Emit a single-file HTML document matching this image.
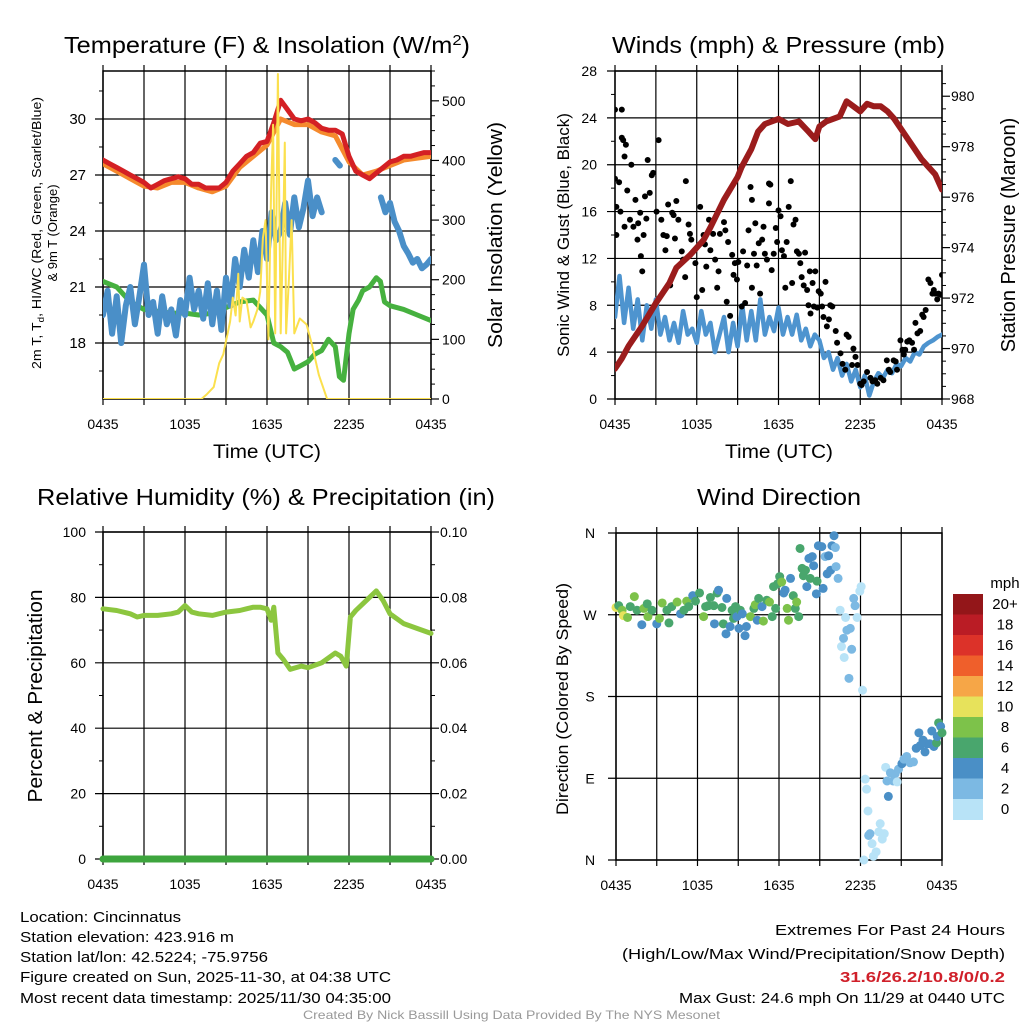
<!DOCTYPE html>
<html><head><meta charset="utf-8"><style>
html,body{margin:0;padding:0;background:#fff;}
svg{display:block;font-family:"Liberation Sans",sans-serif;}
</style></head><body>
<svg id="chart" xmlns="http://www.w3.org/2000/svg" width="1024" height="1024" viewBox="0 0 1024 1024">
<rect width="1024" height="1024" fill="#fff"/>
<g id="layer"></g>
<!-- titles -->
<text x="64" y="53" font-size="23" textLength="406" lengthAdjust="spacingAndGlyphs">Temperature (F) &amp; Insolation (W/m<tspan dy="-8" font-size="15">2</tspan><tspan dy="8">)</tspan></text>
<text x="612" y="53" font-size="23" textLength="333" lengthAdjust="spacingAndGlyphs">Winds (mph) &amp; Pressure (mb)</text>
<text x="37" y="505" font-size="23" textLength="458" lengthAdjust="spacingAndGlyphs">Relative Humidity (%) &amp; Precipitation (in)</text>
<text x="697" y="505" font-size="23" textLength="164" lengthAdjust="spacingAndGlyphs">Wind Direction</text>
<!-- axis titles -->
<text transform="translate(41,233) rotate(-90)" font-size="13" text-anchor="middle" textLength="272" lengthAdjust="spacingAndGlyphs">2m T, T<tspan dy="3" font-size="9">d</tspan><tspan dy="-3">, HI/WC (Red, Green, Scarlet/Blue)</tspan></text>
<text transform="translate(57,233) rotate(-90)" font-size="13" text-anchor="middle">&amp; 9m T (Orange)</text>
<text transform="translate(502,235) rotate(-90)" font-size="20" text-anchor="middle" textLength="226" lengthAdjust="spacingAndGlyphs">Solar Insolation (Yellow)</text>
<text x="213" y="458" font-size="19" textLength="108" lengthAdjust="spacingAndGlyphs">Time (UTC)</text>
<text transform="translate(569,235) rotate(-90)" font-size="17" text-anchor="middle">Sonic Wind &amp; Gust (Blue, Black)</text>
<text transform="translate(1015,235) rotate(-90)" font-size="20" text-anchor="middle">Station Pressure (Maroon)</text>
<text x="725" y="458" font-size="19" textLength="108" lengthAdjust="spacingAndGlyphs">Time (UTC)</text>
<text transform="translate(42,696) rotate(-90)" font-size="20" text-anchor="middle" textLength="213" lengthAdjust="spacingAndGlyphs">Percent &amp; Precipitation</text>
<text transform="translate(568,699) rotate(-90)" font-size="17" text-anchor="middle" textLength="232" lengthAdjust="spacingAndGlyphs">Direction (Colored By Speed)</text>
<text x="1005" y="588" font-size="15" text-anchor="middle">mph</text>
<!-- info text -->
<g font-size="15">
<text x="20" y="922" textLength="161" lengthAdjust="spacingAndGlyphs">Location: Cincinnatus</text>
<text x="20" y="942" textLength="214" lengthAdjust="spacingAndGlyphs">Station elevation: 423.916 m</text>
<text x="20" y="962" textLength="248" lengthAdjust="spacingAndGlyphs">Station lat/lon: 42.5224; -75.9756</text>
<text x="20" y="982" textLength="371" lengthAdjust="spacingAndGlyphs">Figure created on Sun, 2025-11-30, at 04:38 UTC</text>
<text x="20" y="1003" textLength="371" lengthAdjust="spacingAndGlyphs">Most recent data timestamp: 2025/11/30 04:35:00</text>
<text x="775" y="935" textLength="230" lengthAdjust="spacingAndGlyphs">Extremes For Past 24 Hours</text>
<text x="622" y="959" textLength="383" lengthAdjust="spacingAndGlyphs">(High/Low/Max Wind/Precipitation/Snow Depth)</text>
<text x="840" y="982" textLength="165" lengthAdjust="spacingAndGlyphs" fill="#d0202a" font-weight="bold">31.6/26.2/10.8/0/0.2</text>
<text x="679" y="1003" textLength="326" lengthAdjust="spacingAndGlyphs">Max Gust: 24.6 mph On 11/29 at 0440 UTC</text>
</g>
<text x="303" y="1019" font-size="12" fill="#999" textLength="417" lengthAdjust="spacingAndGlyphs">Created By Nick Bassill Using Data Provided By The NYS Mesonet</text>
</svg>
<script>
// ---------- DATA ----------
const xTickLabels = ["0435","1035","1635","2235","0435"];
// Top-left: temperature (deg F), half-hourly from 0435
const redT = [27.8,27.6,27.4,27.2,27.0,26.8,26.6,26.3,26.5,26.7,26.8,26.9,26.8,26.5,26.5,26.3,26.3,26.3,26.6,27.2,27.6,28.0,28.2,28.7,28.8,29.8,31.0,30.5,30.0,29.9,30.0,29.8,29.5,29.4,29.4,29.2,28.0,27.2,27.0,26.8,27.1,27.4,27.7,27.8,28.0,28.0,28.1,28.2,28.2];
const orangeT = [27.6,27.2,26.8,26.4,26.3,26.6,26.6,26.3,26.1,26.4,27.4,28.0,28.6,30.0,29.7,29.7,29.3,29.1,27.7,27.0,27.2,27.5,27.8,27.9,28.0];
// dew point every 20 minutes (null = gap)
const blueTd = [19.5,20.8,18.5,20.5,18.0,20.0,21.0,19.0,20.5,22.2,19.5,20.2,18.5,20.5,19.0,19.8,18.4,20.3,19.5,21.5,19.8,20.8,19.3,21.2,19.0,20.8,18.7,21.5,20.0,22.5,21.0,23.0,21.5,23.5,21.8,24.0,22.5,25.0,23.5,24.0,25.5,23.8,25.8,24.2,25.2,26.7,24.8,25.8,25.0,null,null,27.8,27.5,null,null,null,null,null,null,null,null,25.8,25.0,25.5,24.5,24.0,23.2,22.8,22.3,22.5,22.0,22.2,22.5];
const greenHours = [0,1,2,3,4,5,6,7,8,9,10,11,12,12.5,13,13.5,14,14.5,15,15.5,16,16.5,17,17.3,17.6,18,18.3,18.7,19,19.5,20,20.3,20.6,21,22,23,24];
const greenT = [21.3,21.0,20.2,19.8,19.7,19.6,19.6,19.5,19.6,19.9,20.2,20.3,19.5,18.0,17.8,17.5,16.6,16.8,17.0,17.4,17.6,18.2,17.8,16.2,16.0,18.5,19.8,20.3,20.8,21.0,21.5,21.3,20.2,20.0,19.8,19.5,19.2];
const solarHours = [0,7.2,7.6,8.1,8.5,8.8,9.3,9.5,9.7,9.9,10.0,10.2,10.5,10.8,11.0,11.3,11.5,11.7,11.9,12.1,12.3,12.45,12.6,12.8,13.0,13.2,13.3,13.4,13.6,13.8,14.0,14.4,14.9,15.3,15.8,16.4,24];
const solarW = [0,0,8,20,60,75,130,170,140,210,130,170,165,120,130,150,180,270,300,100,350,460,110,545,110,300,430,110,200,300,110,135,125,90,40,0,0];
const tempTicks = [18,21,24,27,30];
const solarTicks = [0,100,200,300,400,500];
// Top-right: wind every 20 min (mph)
const windSpeed = [7,10.5,6.5,9.5,6.0,8.5,5.0,8.0,6.0,8.5,5.5,7.0,5.0,6.5,4.8,7.5,5.5,6.0,4.8,7.5,5.5,6.5,4.0,5.5,7.0,4.0,6.5,4.5,8.0,5.0,7.5,5.0,8.5,5.5,7.0,5.8,7.8,5.5,7.0,5.5,7.2,5.0,6.0,4.5,5.5,5.0,3.5,4.0,2.5,3.5,2.0,3.0,1.5,2.5,1.0,2.0,0.3,1.5,2.2,1.8,2.5,2.2,3.0,2.8,3.5,3.2,4.0,3.8,4.5,4.8,5.0,5.3,5.5];
const gustHours = [0,0.5,0,0.3,0.1,0.4,0.1,0.5,0.6,0.8,0.7,1.2,0.9,0.7,1.1,1.35,1.5,1.7,1.65,1.85,1.9,2.0,2.1,2.2,2.3,2.4,2.55,2.7,2.8,3.05,3.2,3.4,3.55,3.7,3.8,4.05,3.9,4.2,4.3,4.4,4.5,4.65,4.9,5.0,5.15,5.2,5.4,5.5,5.6,5.9,6.0,6.25,6.4,6.5,6.6,6.7,6.9,7.0,7.2,7.35,7.5,7.6,7.7,8.0,8.1,8.2,8.3,8.45,8.6,8.7,8.8,8.95,9.05,9.3,9.4,9.55,9.7,9.8,9.95,10.05,10.05,10.2,10.3,10.4,10.55,10.65,10.8,10.9,11.0,11.15,11.3,11.4,11.3,11.5,11.65,11.8,11.9,12.0,12.15,12.25,12.4,12.5,12.6,12.75,12.9,13.0,13.1,13.25,13.35,13.5,13.6,13.7,13.85,13.95,14.1,14.2,14.3,14.35,14.5,14.6,14.7,14.85,14.95,15.1,15.2,15.3,15.45,15.55,15.7,15.8,15.95,16.2,16.3,16.55,16.7,16.9,17.0,17.15,17.4,17.5,17.65,17.8,18.0,18.1,18.25,18.5,18.75,18.9,19.1,19.25,19.5,19.7,19.95,20.1,20.2,20.45,20.6,20.7,20.95,21.1,21.2,21.3,21.45,21.6,21.8,21.95,22.05,22.2,22.4,22.55,22.65,22.8,23.0,23.15,23.3,23.4,23.5,23.65,23.75,23.9,24.0];
const gustMph = [24.7,24.7,18.8,18.5,16.4,16.0,14.0,22.3,22.1,21.7,20.7,20.0,17.8,14.7,15.3,14.7,17.0,15.0,13.6,15.9,12.2,10.9,14.0,17.3,15.4,20.4,17.6,19.1,19.3,16.0,22.1,15.3,14.0,12.7,13.9,9.7,16.6,15.9,15.7,13.7,16.9,15.3,12.6,11.9,10.4,18.6,14.9,14.1,13.6,11.6,8.7,16.4,9.3,14.0,13.2,11.3,15.3,12.7,14.1,11.9,9.5,10.9,14.1,15.1,14.4,8.3,13.4,7.1,12.3,10.6,11.6,10.2,11.7,7.9,12.6,8.2,11.4,14.4,18.1,17.0,9.5,12.4,15.0,11.4,13.3,9.0,13.6,14.7,12.4,11.9,18.4,18.3,16.7,11.0,12.4,14.6,13.4,16.1,15.6,12.7,12.2,9.5,13.4,16.4,18.6,9.9,14.9,15.3,12.6,12.4,11.6,10.4,9.7,12.5,9.3,8.0,10.9,7.3,9.9,7.9,10.9,7.8,9.2,9.0,7.9,7.0,10.0,6.2,6.8,8.0,7.9,5.8,4.8,3.9,3.0,2.5,5.5,5.3,2.9,4.3,3.6,2.9,1.3,1.2,1.5,2.3,1.8,1.5,1.6,1.3,1.8,1.6,3.3,2.5,2.3,3.3,3.2,2.5,5.0,4.2,3.8,4.2,4.9,5.0,4.8,4.2,6.5,5.6,5.8,7.2,7.0,7.6,10.2,9.9,9.0,9.3,9.0,8.5,9.0,8.9,10.6];
const pressHours = [0,0.5,1,2,3,4,4.5,5.5,6.5,7,8,9,9.3,10,10.5,11,12,12.7,13.5,14.2,14.7,15,15.5,16,16.5,17,17.5,18,18.5,19,19.5,20,20.5,21,21.5,22,22.5,23,23.5,24];
const pressMb = [969.2,969.6,970.1,970.9,971.8,972.6,973.2,973.7,974.3,974.8,975.9,976.8,977.2,977.9,978.6,978.9,979.1,978.9,979.0,978.6,978.3,978.8,979.0,979.1,979.2,979.8,979.6,979.4,979.7,979.6,979.6,979.4,979.1,978.7,978.3,977.9,977.5,977.2,976.9,976.3];
const windTicks = [0,4,8,12,16,20,24,28];
const pressTicks = [968,970,972,974,976,978,980];
// Bottom-left: RH (%), precip (in)
const rhHours = [0,1,2,2.5,3,4,5,5.5,6,6.5,7,8,9,10,10.5,11,11.5,12,12.3,12.5,12.8,13.2,13.7,14.5,15,16,17,17.4,17.8,18.1,18.5,19,19.5,20,20.5,21,22,23,24];
const rhPct = [76.5,76,75,74,74.5,74.5,75,75.5,77.5,75.5,75,74.5,75.5,76,76.5,77,77,76.5,73,77,63,61,58,59,58.5,60,63,62,59,74,76,78,80,82,79,75,72,70.5,69];
const precipHours = [0,6,12,18,24];
const precipIn = [0,0,0,0,0];
const rhTicks = [0,20,40,60,80,100];
const precipTicks = ["0.00","0.02","0.04","0.06","0.08","0.10"];
// Bottom-right: wind direction
const dirHours = [0,0.2,0.45,0.55,0.85,1.05,1.35,1.55,1.9,2.05,2.3,2.35,2.65,3.0,3.2,3.4,3.75,3.9,4.1,4.5,4.75,5.0,5.2,5.35,5.65,5.85,6.15,6.45,6.6,6.8,6.95,7.2,7.25,7.45,7.55,7.8,7.9,8.1,8.15,8.4,8.55,8.65,8.8,8.9,9.05,9.15,9.3,9.5,9.6,9.9,10.15,10.25,10.4,10.5,10.75,10.85,11.1,11.3,11.5,11.6,11.75,11.9,12.05,12.2,12.35,12.45,12.6,12.7,12.85,13.05,13.2,13.3,13.45,13.55,13.7,13.8,13.95,14.05,14.2,14.3,14.45,14.55,14.75,14.8,14.9,15.15,15.25,15.4,15.55,15.65,15.8,15.9,16.05,16.15,16.2,16.35,16.5,16.6,16.75,16.8,16.9,17.0,17.15,17.25,17.35,17.5,17.6,17.75,17.95,18.05,18.15,18.25,18.35,18.45,18.55,18.6,18.7,18.85,18.95,19.15,19.35,19.45,19.6,19.75,19.85,19.95,20.05,20.2,20.4,20.55,20.7,20.8,21.05,21.2,21.4,21.65,21.9,22.1,22.3,22.4,22.6,22.75,22.9,23.1,23.25,23.4,23.6,23.65,23.75,23.9,24];
const dirDeg = [278,280,275,269,267,279,290,275,259,277,282,268,275,260,266,283,275,261,279,284,271,275,285,279,291,285,294,268,279,280,289,280,260,294,297,278,260,249,288,257,275,266,279,268,255,275,271,247,257,268,277,281,264,288,279,263,286,284,268,301,277,304,312,306,294,297,277,264,310,291,277,284,268,343,321,313,319,301,332,310,334,324,293,307,346,345,299,334,315,335,319,346,357,344,323,310,275,235,244,223,267,253,200,255,232,288,280,267,296,301,187,0,89,78,54,27,29,18,4,9,31,40,23,29,102,87,70,96,87,95,86,100,106,111,114,107,108,123,140,126,132,119,128,128,142,125,129,136,151,147,140];
const dirSpeed = [11,7,9,11,9,7,9,7,5,9,7,9,7,5,9,9,7,7,7,9,5,7,9,7,5,7,7,9,7,7,7,7,5,7,5,7,7,5,5,5,7,7,7,5,5,7,5,5,5,9,7,9,5,7,5,9,7,9,7,7,7,7,7,9,5,5,9,9,5,7,7,9,7,7,7,7,7,5,5,7,5,5,5,7,5,5,5,3,5,5,5,5,5,3,3,3,1,1,3,1,1,3,3,3,3,3,3,1,1,1,1,1,1,1,1,3,3,1,1,1,1,1,1,1,1,3,5,3,3,3,1,3,5,3,3,3,3,5,5,5,5,5,5,5,5,5,7,5,7,5,7];
const dirTickLabels = ["N","E","S","W","N"];
const dirTickDeg = [0,90,180,270,360];
const cbLabels = ["20+","18","16","14","12","10","8","6","4","2","0"];
const cbColors = ["#931619","#ba1c25","#dc3229","#ef5f2b","#f6a647","#e7e25b","#7dc24a","#49a66d","#4a8fc6","#7cb9e3","#b8e3f7"];

// ---------- HELPERS ----------
const NS = "http://www.w3.org/2000/svg";
const layer = document.getElementById("layer");
function mk(tag, attrs, parent) {
  const e = document.createElementNS(NS, tag);
  for (const k in attrs) e.setAttribute(k, attrs[k]);
  (parent || layer).appendChild(e);
  return e;
}
function lin(d0, d1, r0, r1) { return v => r0 + (v - d0) / (d1 - d0) * (r1 - r0); }

const panels = {
  tl: {x0:103, x1:431, y0:71, y1:399},
  tr: {x0:615, x1:942, y0:71, y1:399},
  bl: {x0:103, x1:431, y0:532, y1:859},
  br: {x0:616, x1:942, y0:533, y1:860}
};

function frame(p, name, leftTicksY, leftMinorY, rightTicksY, rightMinorY) {
  const g = mk("g", {});
  
  
  const xs = lin(0, 24, p.x0, p.x1);
  for (let h = 0; h <= 24; h += 3) {
    const x = xs(h);
    const gl = mk("line", {x1:x, x2:x, y1:p.y0 - 6, y2:p.y1 + 6, stroke:"#000", "stroke-width":1.2}, g);
    
    
  }
  leftTicksY.forEach(y => {
    const gl = mk("line", {x1:p.x0 - 8, x2:p.x1, y1:y, y2:y, stroke:"#000", "stroke-width":1.2}, g);
    
    
  });
  (leftMinorY || []).forEach(y => {
    const t = mk("line", {x1:p.x0 - 4, x2:p.x0, y1:y, y2:y, stroke:"#000", "stroke-width":1}, g);
    
    
  });
  (rightTicksY || []).forEach(y => {
    const t = mk("line", {x1:p.x1, x2:p.x1 + 8, y1:y, y2:y, stroke:"#000", "stroke-width":1.2}, g);
    
    
  });
  (rightMinorY || []).forEach(y => {
    const t = mk("line", {x1:p.x1, x2:p.x1 + 4, y1:y, y2:y, stroke:"#000", "stroke-width":1}, g);
    
    
  });
  const b = mk("rect", {x:p.x0, y:p.y0, width:p.x1 - p.x0, height:p.y1 - p.y0, fill:"none", stroke:"#000", "stroke-width":1.5}, g);
  
  
  xTickLabels.forEach((lab, i) => {
    const t = mk("text", {x:xs(i * 6), y:p.y1 + 30, "font-size":14, "text-anchor":"middle"}, g);
    
    
    t.textContent = lab;
  });
  return xs;
}
function yLabels(vals, labels, ys, x, anchor, size, name) {
  vals.forEach((v, i) => {
    const t = mk("text", {x:x, y:ys(v) + 5, "font-size":size, "text-anchor":anchor});
    
    
    t.textContent = labels[i];
  });
}
function pathFrom(hours, vals, xs, ys) {
  let d = "", pen = false;
  for (let i = 0; i < vals.length; i++) {
    if (vals[i] === null) { pen = false; continue; }
    d += (pen ? "L" : "M") + xs(hours[i]).toFixed(1) + "," + ys(vals[i]).toFixed(1);
    pen = true;
  }
  return d;
}
function uniformHours(n) { const step = 24 / (n - 1); return Array.from({length:n}, (_, i) => i * step); }

// ---------- TOP LEFT ----------
{
  const p = panels.tl;
  const yT = lin(15, 32.57, p.y1, p.y0);
  const yS = lin(0, 550, p.y1, p.y0);
  const minor = []; for (let v = 16.5; v < 32.5; v += 1.5) if (!tempTicks.includes(v)) minor.push(yT(v));
  const rmaj = solarTicks.map(yS);
  const rmin = []; for (let v = 25; v <= 550; v += 25) if (v % 100) rmin.push(yS(v));
  const xs = frame(p, "temperature", tempTicks.map(yT), minor, rmaj, rmin);
  yLabels(tempTicks, tempTicks.map(String), yT, 86, "end", 15, "temp-tick-label");
  yLabels(solarTicks, solarTicks.map(String), yS, 442, "start", 14, "solar-tick-label");
  const cp = mk("clipPath", {id:"cTL"}); mk("rect", {x:p.x0, y:p.y0 - 2, width:p.x1 - p.x0, height:p.y1 - p.y0 + 2}, cp);
  const g = mk("g", {"clip-path":"url(#cTL)", fill:"none", "stroke-linejoin":"round", "stroke-linecap":"round"});
  let e;
  e = mk("path", {d:pathFrom(uniformHours(orangeT.length), orangeT, xs, yT), stroke:"#f58a2d", "stroke-width":5}, g);
   
  e = mk("path", {d:pathFrom(uniformHours(redT.length), redT, xs, yT), stroke:"#d42024", "stroke-width":5}, g);
   
  e = mk("path", {d:pathFrom(greenHours, greenT, xs, yT), stroke:"#46b13f", "stroke-width":5}, g);
   
  e = mk("path", {d:pathFrom(uniformHours(blueTd.length), blueTd, xs, yT), stroke:"#4a8fc8", "stroke-width":6}, g);
   
  e = mk("path", {d:pathFrom(solarHours, solarW, xs, yS), stroke:"#fbe04e", "stroke-width":2}, g);
   
}
// ---------- TOP RIGHT ----------
{
  const p = panels.tr;
  const yW = lin(0, 28, p.y1, p.y0);
  const yP = lin(968, 981, p.y1, p.y0);
  const minor = []; for (let v = 2; v < 28; v += 4) minor.push(yW(v));
  const rmin = []; for (let v = 968.5; v < 981; v += 0.5) if (v % 2) rmin.push(yP(v));
  const xs = frame(p, "winds", windTicks.map(yW), minor, pressTicks.map(yP), rmin);
  yLabels(windTicks, windTicks.map(String), yW, 597, "end", 14, "wind-tick-label");
  yLabels(pressTicks, pressTicks.map(String), yP, 951, "start", 14, "pressure-tick-label");
  const cp = mk("clipPath", {id:"cTR"}); mk("rect", {x:p.x0, y:p.y0, width:p.x1 - p.x0, height:p.y1 - p.y0 + 2}, cp);
  const g = mk("g", {"clip-path":"url(#cTR)", fill:"none", "stroke-linejoin":"round", "stroke-linecap":"round"});
  let e = mk("path", {d:pathFrom(uniformHours(windSpeed.length), windSpeed, xs, yW), stroke:"#4e94cf", "stroke-width":4.5}, g);
   
  gustHours.forEach((h, i) => {
    const c = mk("circle", {cx:xs(h), cy:yW(gustMph[i]), r:3, fill:"#000"}, g);
    
    
  });
  e = mk("path", {d:pathFrom(pressHours, pressMb, xs, yP), stroke:"#9b1c1c", "stroke-width":6}, g);
   
}
// ---------- BOTTOM LEFT ----------
{
  const p = panels.bl;
  const yR = lin(0, 100, p.y1, p.y0);
  const yPr = lin(0, 0.10, p.y1, p.y0);
  const minor = []; for (let v = 10; v < 100; v += 20) minor.push(yR(v));
  const rmaj = precipTicks.map(s => yPr(parseFloat(s)));
  const xs = frame(p, "humidity", rhTicks.map(yR), minor, rmaj, minor);
  yLabels(rhTicks, rhTicks.map(String), yR, 86, "end", 14, "rh-tick-label");
  yLabels(precipTicks.map(parseFloat), precipTicks, yPr, 440, "start", 14, "precip-tick-label");
  const g = mk("g", {fill:"none", "stroke-linejoin":"round", "stroke-linecap":"round"});
  let e = mk("path", {d:pathFrom(rhHours, rhPct, xs, yR), stroke:"#8cc63f", "stroke-width":5}, g);
   
  e = mk("path", {d:pathFrom(precipHours, precipIn, xs, yPr), stroke:"#3da53d", "stroke-width":7}, g);
   
}
// ---------- BOTTOM RIGHT ----------
{
  const p = panels.br;
  const yD = lin(0, 360, p.y1, p.y0);
  const xs = frame(p, "wind-direction", dirTickDeg.map(yD), [], [], []);
  yLabels(dirTickDeg, dirTickLabels, yD, 590, "middle", 14, "direction-tick-label");
  const g = mk("g", {});
  dirHours.forEach((h, i) => {
    const bin = Math.min(10, Math.floor(dirSpeed[i] / 2));
    const c = mk("circle", {cx:xs(h), cy:yD(dirDeg[i]), r:4.5, fill:cbColors[10 - bin]}, g);
    
    
  });
  const top = 594, bh = 20.5;
  cbLabels.forEach((lab, i) => {
    const r = mk("rect", {x:953, y:top + i * bh, width:30, height:bh + 0.5, fill:cbColors[i]});
    
    
    const t = mk("text", {x:1005, y:top + i * bh + 15, "font-size":15, "text-anchor":"middle"});
    
    
    t.textContent = lab;
  });
}
</script>
</body></html>
